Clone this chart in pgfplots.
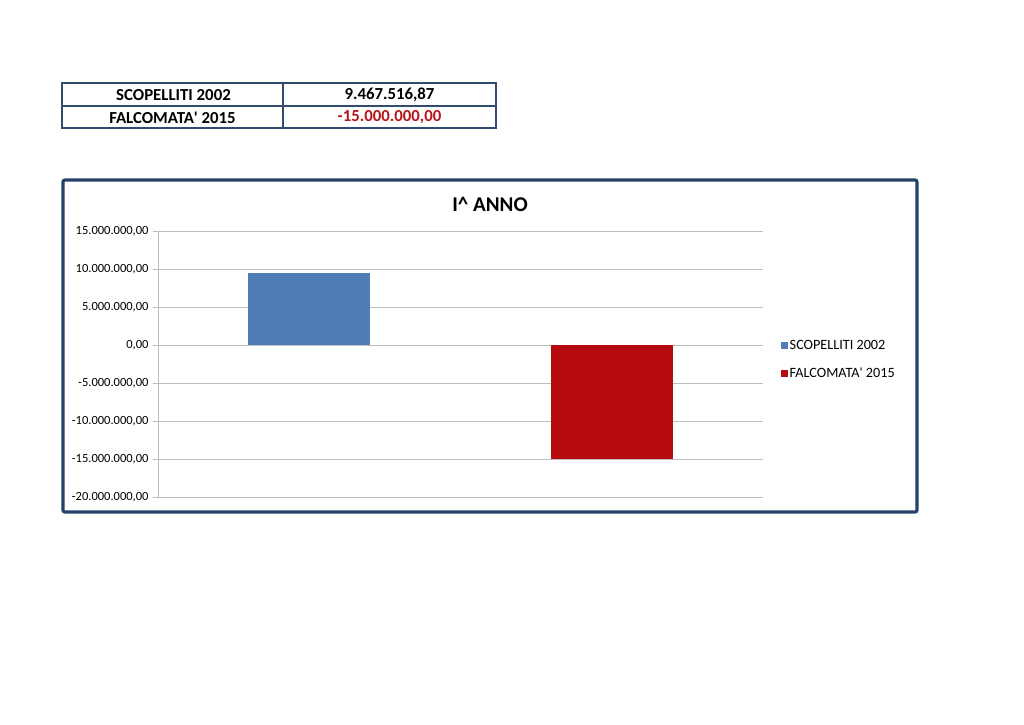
\documentclass[border=0pt]{standalone}
\usepackage{pgfplots}
\pgfplotsset{compat=1.18}
\usepackage{fontspec}
\setmainfont{Carlito}
\definecolor{frameblue}{RGB}{38,66,105}
\definecolor{tableline}{RGB}{50,76,112}
\definecolor{barblue}{RGB}{79,125,181}
\definecolor{barred}{RGB}{181,11,16}
\definecolor{valred}{RGB}{185,20,25}
\definecolor{gridgray}{RGB}{190,190,190}
\begin{document}
\begin{tikzpicture}[x=1pt,y=1pt]
\useasboundingbox[fill=white] (0,0) rectangle (1024,724);
% table
\draw[tableline,line width=1.2pt] (62,596) rectangle (496,641);
\draw[tableline,line width=1.2pt] (62,618) -- (496,618);
\draw[tableline,line width=1.2pt] (283,596) -- (283,641);
\node[font=\fontsize{16.8}{18}\selectfont\bfseries] at (173.5,629) {SCOPELLITI 2002};
\node[font=\fontsize{16.8}{18}\selectfont\bfseries] at (172.5,606.5) {FALCOMATA\textquotesingle\ 2015};
\node[font=\fontsize{16.8}{18}\selectfont\bfseries] at (389.5,629) {9.467.516,87};
\node[font=\fontsize{16.8}{18}\selectfont\bfseries,text=valred] at (389.5,606.5) {-15.000.000,00};
% frame
\draw[frameblue,line width=3.2pt,rounded corners=2pt] (63,212) rectangle (917,544);
\node[font=\fontsize{21}{24}\selectfont\bfseries] at (490,520) {I\textasciicircum\ ANNO};
\begin{axis}[
  at={(158pt,227pt)}, anchor=south west,
  width=605pt, height=266pt, scale only axis,
  xmin=0.5, xmax=2.5, ymin=-20000000, ymax=15000000,
  ytick={-20000000,-15000000,-10000000,-5000000,0,5000000,10000000,15000000},
  scaled y ticks=false,
  axis x line=none,
  axis y line*=left,
  axis line style={gridgray, line width=0.8pt},
  ymajorgrids, grid style={gridgray, line width=0.8pt},
  tick align=outside, major tick length=5pt,
  ytick style={gridgray, line width=0.8pt},
  yticklabel style={font=\fontsize{12.5}{14}\selectfont, xshift=-1pt, yshift=-0.5pt, /pgf/number format/.cd, fixed, fixed zerofill, precision=2, use comma, 1000 sep={.}, assume math mode=true},
  ybar, bar width=122pt,
  legend style={at={(1.024,0.606)}, anchor=north west, draw=none, fill=none,
    font=\fontsize{14.2}{16}\selectfont, row sep=13pt,
    /tikz/every even column/.append style={column sep=2pt}},
  legend cell align=left,
]
\addplot[fill=barblue, draw=none, bar shift=0pt,
  legend image code/.code={\fill[barblue] (0pt,-3.5pt) rectangle (7pt,3.5pt);}]
  coordinates {(1,9467516.87)};
\addlegendentry{SCOPELLITI 2002}
\addplot[fill=barred, draw=none, bar shift=0pt,
  legend image code/.code={\fill[barred] (0pt,-3.5pt) rectangle (7pt,3.5pt);}]
  coordinates {(2,-15000000)};
\addlegendentry{FALCOMATA\textquotesingle\ 2015}
\end{axis}
\end{tikzpicture}
\end{document}
